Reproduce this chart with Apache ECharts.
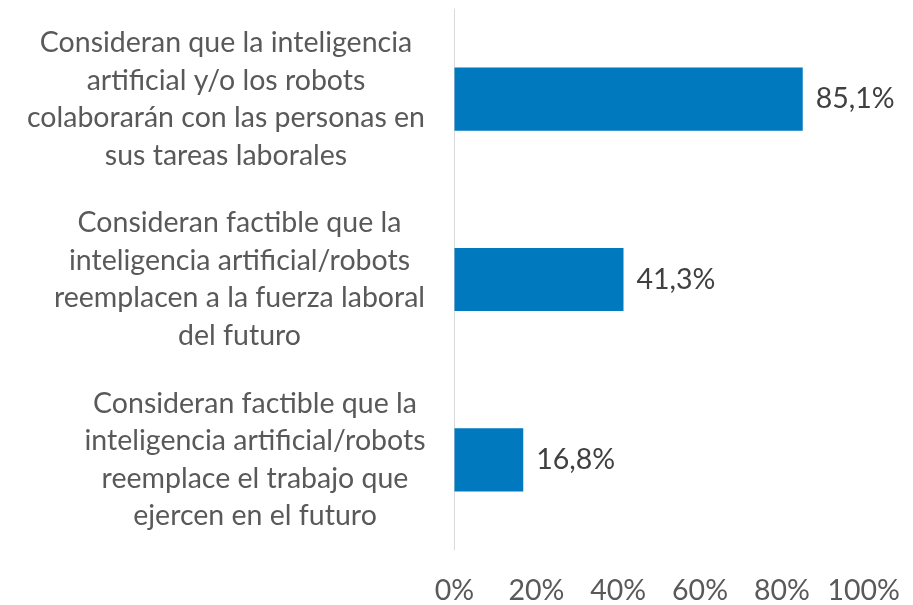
<!DOCTYPE html>
<html>
<head>
<meta charset="utf-8">
<script src="https://cdn.jsdelivr.net/npm/echarts@6/dist/echarts.min.js"></script>
<style>
  html, body { margin: 0; padding: 0; background: #ffffff; }
  #chart { width: 913px; height: 605px; }
</style>
</head>
<body>
<div id="chart"></div>
<script>
// Survey answers, one label per bar (line breaks as shown)
const categories = [
  'Consideran que la inteligencia\nartificial y/o los robots\ncolaborarán con las personas en\nsus tareas laborales',
  'Consideran factible que la\ninteligencia artificial/robots\nreemplacen a la fuerza laboral\ndel futuro',
  'Consideran factible que la\ninteligencia artificial/robots\nreemplace el trabajo que\nejercen en el futuro'
];
// Share of respondents, in percent
const values = [85.1, 41.3, 16.8];
// X axis ticks, in percent
const tickValues = [0, 20, 40, 60, 80, 100];

const FONT = 'Lato';
const FONT_SIZE = 28.5;

// Width of the widest line in each label, so lines can be centred in their block
const measureCtx = document.createElement('canvas').getContext('2d');
measureCtx.font = FONT_SIZE + 'px ' + FONT;
const blockWidths = categories.map(c =>
  Math.ceil(Math.max(...c.split('\n').map(l => measureCtx.measureText(l).width)))
);
const rich = {};
blockWidths.forEach((w, i) => {
  rich['c' + i] = {
    width: w, align: 'center', fontFamily: FONT, fontSize: FONT_SIZE,
    color: '#595959', lineHeight: 37.5
  };
});

const fmtPct = v => String(v).replace('.', ',') + '%';

const chart = echarts.init(document.getElementById('chart'), null, { renderer: 'canvas' });
chart.setOption({
  animation: false,
  backgroundColor: '#ffffff',
  grid: { left: 454.5, right: 49.3, top: 9, bottom: 54, containLabel: false },
  xAxis: {
    type: 'value',
    min: tickValues[0],
    max: tickValues[tickValues.length - 1],
    interval: tickValues[1] - tickValues[0],
    axisLine: { show: false },
    axisTick: { show: false },
    splitLine: { show: false },
    axisLabel: {
      margin: 26,
      fontFamily: FONT, fontSize: FONT_SIZE, color: '#595959',
      formatter: v => v + '%'
    }
  },
  yAxis: {
    type: 'category',
    inverse: true,
    data: categories,
    axisLine: { show: true, lineStyle: { color: '#d9d9d9', width: 1 } },
    axisTick: { show: false },
    splitLine: { show: false },
    axisLabel: {
      margin: 29,
      align: 'right',
      interval: 0,
      formatter: (value, idx) =>
        value.split('\n').map(l => '{c' + idx + '|' + l + '}').join('\n'),
      rich: rich
    }
  },
  series: [{
    type: 'bar',
    data: values,
    barCategoryGap: '65%',
    itemStyle: { color: '#0179BE' },
    label: {
      show: true,
      position: 'right',
      distance: 13,
      fontFamily: FONT, fontSize: FONT_SIZE, color: '#404040',
      formatter: p => fmtPct(p.value)
    }
  }]
});
</script>
</body>
</html>
